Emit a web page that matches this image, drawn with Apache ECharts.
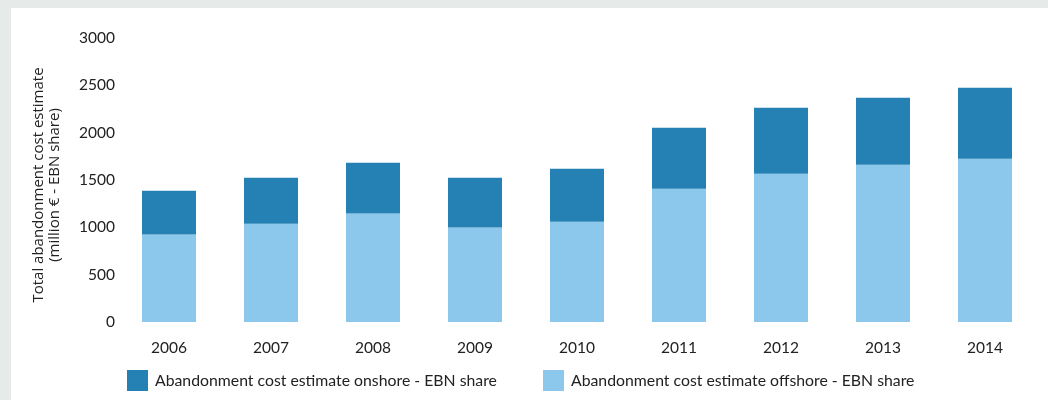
<!DOCTYPE html>
<html>
<head>
<meta charset="utf-8">
<script src="https://cdn.jsdelivr.net/npm/echarts@6/dist/echarts.min.js"></script>
<style>
  html, body { margin: 0; padding: 0; background: #fff; }
  #main {
    width: 1037px; height: 392px;
    border-top: 8px solid #e6eae9;
    border-left: 11px solid #e6eae9;
    background: #fff;
  }
</style>
</head>
<body>
<div id="main"></div>
<script>
  // years on the x axis
  var years = ['2006', '2007', '2008', '2009', '2010', '2011', '2012', '2013', '2014'];
  // offshore part (bottom of each bar), million €
  var offshore = [923, 1039, 1145, 997, 1060, 1408, 1567, 1661, 1725];
  // onshore part (stacked on top), million €
  var onshore = [464, 486, 538, 528, 558, 644, 696, 707, 749];

  var onshoreName = 'Abandonment cost estimate onshore - EBN share';
  var offshoreName = 'Abandonment cost estimate offshore - EBN share';

  var myChart = echarts.init(document.getElementById('main'));
  myChart.setOption({
    animation: false,
    textStyle: { fontFamily: 'Lato', color: '#222' },
    grid: { left: 107, right: 12, top: 30, bottom: 78 },
    legend: [{
      left: 111, top: 357,
      itemWidth: 21, itemHeight: 21,
      icon: 'rect',
      data: [onshoreName],
      textStyle: { fontSize: 15.8, color: '#222', padding: [0, 0, 0, 2] }
    }, {
      left: 527, top: 357,
      itemWidth: 21, itemHeight: 21,
      icon: 'rect',
      data: [offshoreName],
      textStyle: { fontSize: 15.8, color: '#222', padding: [0, 0, 0, 2] }
    }],
    xAxis: {
      type: 'category',
      data: years,
      axisLine: { show: false },
      axisTick: { show: false },
      axisLabel: { fontSize: 15.5, color: '#222', margin: 18 }
    },
    yAxis: {
      type: 'value',
      min: 0, max: 3000, interval: 500,
      name: 'Total abandonment cost estimate\n(million € - EBN share)',
      nameLocation: 'middle',
      nameRotate: 90,
      nameGap: 55,
      nameTextStyle: {
        fontFamily: 'Open Sans', fontSize: 15, lineHeight: 16, color: '#222',
        padding: [0, 10, 0, 0]
      },
      splitLine: { show: false },
      axisLine: { show: false },
      axisTick: { show: false },
      axisLabel: {
        fontSize: 15.5, color: '#222', margin: 3,
        formatter: function (v) { return String(v); }
      }
    },
    series: [{
      name: offshoreName,
      type: 'bar',
      stack: 'total',
      barWidth: 54,
      itemStyle: { color: '#8cc7ec' },
      data: offshore
    }, {
      name: onshoreName,
      type: 'bar',
      stack: 'total',
      barWidth: 54,
      itemStyle: { color: '#2580b3' },
      data: onshore
    }]
  });
  window.onresize = function () {
    myChart.resize();
  };
</script>
</body>
</html>
